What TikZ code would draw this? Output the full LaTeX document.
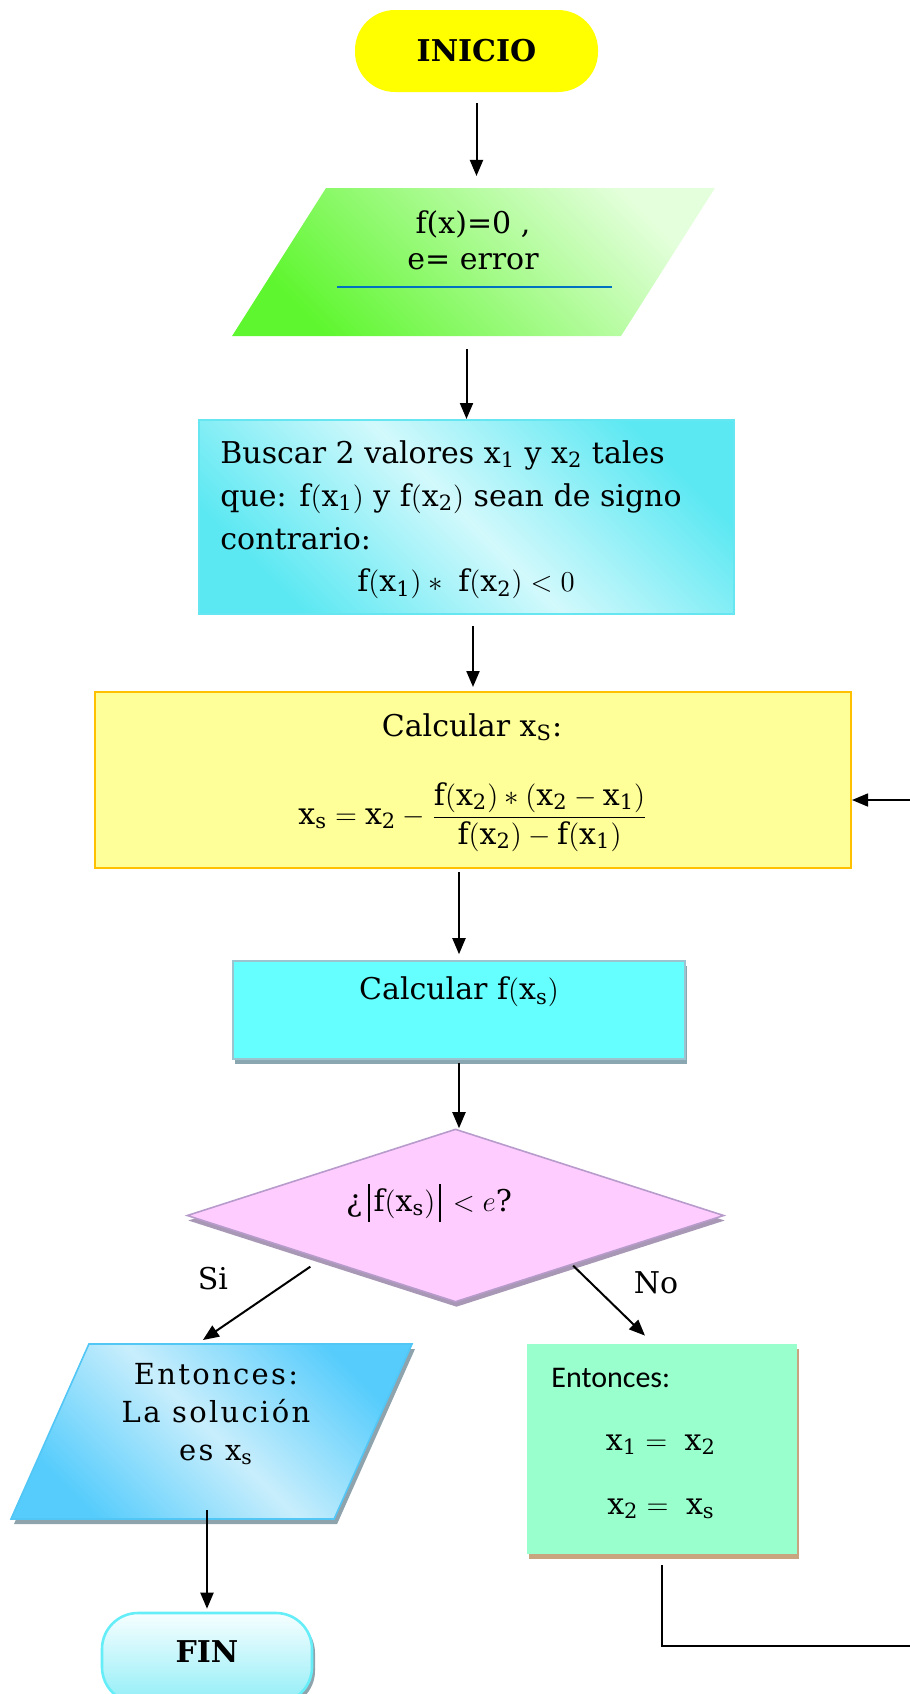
\documentclass[tikz,border=0pt]{standalone}
\usepackage{amsmath}
\usepackage{fontspec}
\setmainfont{DejaVu Serif}
\newfontfamily\calibrifont{Carlito}
\newfontfamily\spacedfont[LetterSpace=8]{DejaVu Serif}
\usetikzlibrary{shapes.geometric,shadows,arrows.meta,calc}

\definecolor{inicioamarillo}{HTML}{FFFF00}
\definecolor{verdefuerte}{HTML}{5EF62E}
\definecolor{verdeclaro}{HTML}{E4FFDC}
\definecolor{lineaazul}{HTML}{0070C0}
\definecolor{cianfuerte}{HTML}{5CE8F2}
\definecolor{cianclaro}{HTML}{D2F9FC}
\definecolor{cianborde}{HTML}{66E6F0}
\definecolor{amarillofondo}{HTML}{FFFF99}
\definecolor{amarilloborde}{HTML}{FFC000}
\definecolor{cianfxs}{HTML}{66FFFF}
\definecolor{fxsborde}{HTML}{9CC4D0}
\definecolor{fxssombra}{HTML}{8AA6B0}
\definecolor{rosa}{HTML}{FFCCFF}
\definecolor{rosaborde}{HTML}{B79BCB}
\definecolor{rosasombra}{HTML}{A898B5}
\definecolor{azulfuerte}{HTML}{55CCFC}
\definecolor{azulclaro}{HTML}{C8EEFC}
\definecolor{azulborde}{HTML}{52C6F5}
\definecolor{azulsombra}{HTML}{8FA3AD}
\definecolor{verdeagua}{HTML}{99FFCC}
\definecolor{sombracafe}{HTML}{C8A57E}
\definecolor{finclaro}{HTML}{F6FEFF}
\definecolor{finfuerte}{HTML}{92EEF7}
\definecolor{finborde}{HTML}{66EEF8}

\newcommand{\barra}{\rule[-5.5pt]{0.7pt}{19pt}}

\tikzset{
  arr/.style={-{Triangle[length=8pt,width=6.5pt]}, line width=1pt},
  texto/.style={inner sep=0pt, font=\fontsize{15}{18}\selectfont},
  caja/.style={rectangle, inner sep=0pt},
  paralelo/.style={trapezium, outer sep=0pt},
}

\begin{document}
\begin{tikzpicture}[x=0.5pt,y=-0.5pt]
  \useasboundingbox (0,0) rectangle (910,1694);
  \clip (0,0) rectangle (910,1694);
  % inicio
  \node[caja, fill=inicioamarillo, rounded corners=20pt, minimum width=121.5pt,
        minimum height=41pt, font=\bfseries\fontsize{15}{18}\selectfont] (ini) at (476.5,51) {INICIO};
  % datos de entrada
  \node[paralelo, trapezium left angle=57.6, trapezium right angle=122.4,
        inner xsep=73.75pt, inner ysep=37pt,
        left color=verdefuerte, right color=verdeclaro, shading angle=135] (datos) at (473.5,262) {};
  \node[texto, align=center] (datostxt) at (473,240) {f(x)=0 ,\\ e= error};
  \draw[lineaazul, line width=1.2pt] (337,287) -- (612,287);
  % buscar x1 y x2
  \node[caja, minimum width=267.5pt, minimum height=97pt, draw=cianborde, line width=1pt,
        left color=cianfuerte, right color=cianfuerte, middle color=cianclaro, shading angle=135] (buscar) at (466.5,517) {};
  \node[texto, anchor=west, align=left, font=\fontsize{15}{21.5}\selectfont] (buscartxt) at (220,495)
    {Buscar 2 valores $\mathrm{x_1}$ y $\mathrm{x_2}$ tales\\
     que: $\mathrm{f(x_1)}$ y $\mathrm{f(x_2)}$ sean de signo\\
     contrario:};
  \node[texto] (buscarf) at (466,584) {$\mathrm{f(x_1)} \ast\ \mathrm{f(x_2)} < 0$};
  % calcular xs
  \node[caja, minimum width=378pt, minimum height=88pt, draw=amarilloborde, line width=1pt,
        fill=amarillofondo] (calc) at (473,780) {};
  \node[texto] (calctit) at (472,727) {Calcular $\mathrm{x_S}$:};
  \node[texto] (calcform) at (473,817)
    {$\mathrm{x_s} = \mathrm{x_2} - \dfrac{\mathrm{f(x_2)} \ast (\mathrm{x_2} - \mathrm{x_1})}{\mathrm{f(x_2)} - \mathrm{f(x_1)}}$};
  % calcular f(xs)
  \node[caja, minimum width=226pt, minimum height=49pt, draw=fxsborde, line width=0.8pt, fill=cianfxs,
        drop shadow={shadow xshift=1pt, shadow yshift=-2.5pt, fill=fxssombra, opacity=1}] (fxs) at (459,1010) {};
  \node[texto] (fxstxt) at (459,992) {Calcular $\mathrm{f(x_s)}$};
  % condicion
  \node[diamond, inner sep=0pt, minimum width=268.5pt, minimum height=86.5pt, draw=rosaborde,
        line width=0.8pt, fill=rosa,
        drop shadow={shadow xshift=0.5pt, shadow yshift=-2.5pt, fill=rosasombra, opacity=1}] (cond) at (455.5,1215.5) {};
  \node[texto] (condtxt) at (429,1203)
    {¿\hspace{3pt}\barra\hspace{2pt}$\mathrm{f(x_s)}$\hspace{2pt}\barra\hspace{6pt}$< e$?};
  \node[texto] (si) at (213,1279) {Si};
  \node[texto] (no) at (656,1283) {No};
  % solucion
  \node[paralelo, trapezium left angle=66, trapezium right angle=114,
        inner xsep=61.3pt, inner ysep=43.75pt, draw=azulborde, line width=0.8pt,
        left color=azulfuerte, right color=azulfuerte, middle color=azulclaro, shading angle=135,
        drop shadow={shadow xshift=1.5pt, shadow yshift=-2.5pt, fill=azulsombra, opacity=1}] (sol) at (211.5,1431.5) {};
  \node[texto, align=center, font=\spacedfont\fontsize{14.5}{19}\selectfont] (soltxt) at (216,1414)
    {Entonces:\\ La solución\\ es $\mathrm{x_s}$};
  % reasignar
  \node[caja, minimum width=135pt, minimum height=105pt, fill=verdeagua,
        drop shadow={shadow xshift=1pt, shadow yshift=-2.5pt, fill=sombracafe, opacity=1}] (res) at (662,1449) {};
  \node[texto, anchor=west, font=\calibrifont\fontsize{15}{18}\selectfont] (restit) at (551,1378) {Entonces:};
  \node[texto] (resa) at (661,1445) {$\mathrm{x_1} = \ \mathrm{x_2}$};
  \node[texto] (resb) at (661,1509) {$\mathrm{x_2} = \ \mathrm{x_s}$};
  % fin
  \node[caja, rounded corners=18pt, minimum width=105pt, minimum height=45pt, draw=finborde, line width=1.3pt,
        top color=finclaro, bottom color=finfuerte,
        drop shadow={shadow xshift=1.5pt, shadow yshift=-2pt, fill=azulsombra, opacity=1}] (fin) at (207,1658) {};
  \node[texto, font=\bfseries\fontsize{15}{18}\selectfont] (fintxt) at (207,1652) {FIN};
  % flechas
  \draw[arr, shorten <=5.5pt, shorten >=6pt] (ini.south) -- (ini.south |- datos.north);
  \draw[arr, shorten <=6.5pt] (buscar.north |- datos.south) -- (buscar.north);
  \draw[arr, shorten <=5.5pt, shorten >=2pt] (calc.north |- buscar.south) -- (calc.north);
  \draw[arr, shorten <=1.5pt, shorten >=3pt] (fxs.north |- calc.south) -- (fxs.north);
  \draw[arr, shorten <=1.5pt] (fxs.south) -- (fxs.south |- cond.north);
  \draw[arr] ([shift={(-5.25pt,-3.75pt)}]cond.south west) -- ([shift={(57pt,2pt)}]sol.top left corner);
  \draw[arr] ([shift={(-8.5pt,-3.25pt)}]cond.south east) -- ([shift={(-8.5pt,4pt)}]res.north);
  \draw[arr, shorten >=1.5pt] ($(sol.south -| fin.north)+(0,-9)$) -- (fin.north);
  % regreso
  \coordinate (retorno) at (930,1646);
  \draw[arr, line width=0.8pt] ([yshift=-5.5pt]res.south) |- (retorno) |- ([yshift=-10pt]calc.east);
\end{tikzpicture}
\end{document}
